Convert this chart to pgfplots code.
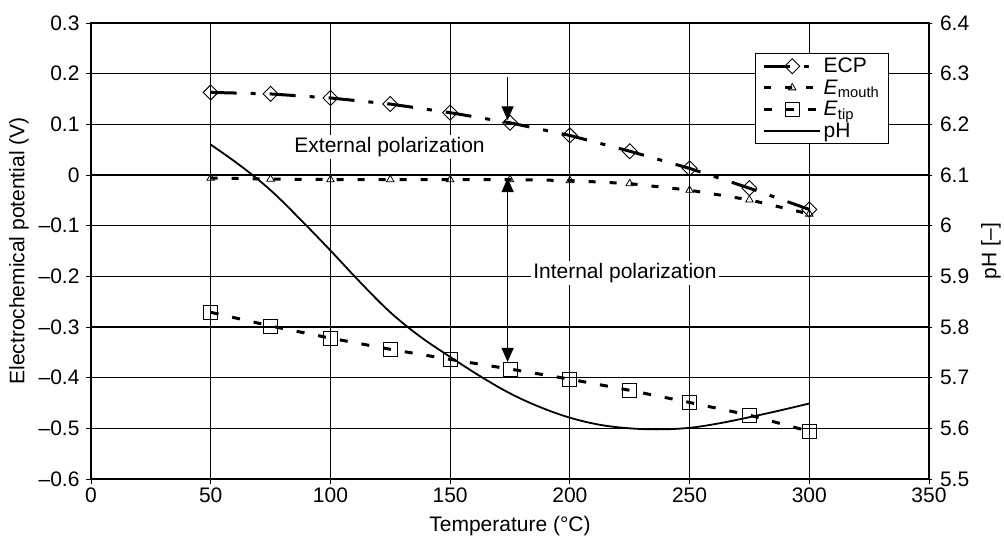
\documentclass[border=0pt]{standalone}
\usepackage{fontspec}
\setmainfont{Liberation Sans}
\usepackage{pgfplots}
\pgfplotsset{compat=1.18}
\usetikzlibrary{arrows.meta}

\begin{document}
\begin{tikzpicture}
\pgfplotsset{
  every axis/.append style={
    scale only axis, width=838pt, height=456pt,
    xmin=0, xmax=350,
    font=\fontsize{21}{24}\selectfont,
    /pgf/number format/assume math mode=true,
    tick style={black, line width=0.9pt},
    major tick length=5pt, tick align=outside,
  },
}
\begin{axis}[
  name=main,
  ymin=-0.6, ymax=0.3,
  xtick={0,50,100,150,200,250,300,350},
  ytick={-0.6,-0.5,-0.4,-0.3,-0.2,-0.1,0,0.1,0.2,0.3},
  yticklabels={--0.6,--0.5,--0.4,--0.3,--0.2,--0.1,0,0.1,0.2,0.3},
  xtick pos=bottom, ytick pos=left,
  grid=major,
  major grid style={black, line width=1.2pt},
  axis line style={black, line width=1.4pt},
  yticklabel style={xshift=-3pt},
  xlabel={Temperature (°C)},
  ylabel={Electrochemical potential (V)},
  xlabel style={at={(axis description cs:0.5,0)}, anchor=center, yshift=-47pt},
  ylabel style={at={(axis description cs:-0.0859,0.5)}, anchor=center},
  legend style={at={(0.952,0.934)}, anchor=north east, draw=black, line width=1pt,
    font=\fontsize{21}{23}\selectfont, inner xsep=7pt, inner ysep=2.5pt, row sep=1.5pt,
    legend cell align=left},
  legend image code/.code={\draw[mark repeat=2,mark phase=2] plot coordinates {(0pt,0pt)(28pt,0pt)(56pt,0pt)};},
]
\addplot[black, line width=3pt, dash pattern=on 26pt off 14pt on 5pt off 14pt,
  mark=square, mark size=5.3pt, mark options={solid, rotate=45, line width=0.9pt, fill=none}]
  coordinates {(50,0.163)(75,0.160)(100,0.152)(125,0.140)(150,0.123)(175,0.103)(200,0.078)(225,0.047)(250,0.013)(275,-0.026)(300,-0.068)};
\addlegendentry{ECP}
\addplot[black, line width=3pt, dash pattern=on 7pt off 14pt,
  mark=triangle, mark size=4.3pt, mark options={solid, line width=0.8pt, fill=none}]
  coordinates {(50,-0.006)(75,-0.008)(100,-0.009)(125,-0.009)(150,-0.009)(175,-0.009)(200,-0.011)(225,-0.017)(250,-0.030)(275,-0.049)(300,-0.077)};
\addlegendentry{\textit{E}\textsubscript{mouth}}
\addplot[black, line width=3pt, dash pattern=on 8pt off 14pt,
  mark=square, mark size=7pt, mark options={solid, line width=0.9pt, fill=none}]
  coordinates {(50,-0.271)(75,-0.298)(100,-0.322)(125,-0.344)(150,-0.364)(175,-0.383)(200,-0.403)(225,-0.425)(250,-0.449)(275,-0.474)(300,-0.506)};
\addlegendentry{\textit{E}\textsubscript{tip}}
\addlegendimage{black, line width=1.8pt}
\addlegendentry{pH}

\node[fill=white, inner sep=2pt, font=\fontsize{21}{24}\selectfont] at (axis cs:124.7,0.055) {External polarization};
\node[fill=white, inner sep=2pt, font=\fontsize{21}{24}\selectfont] at (axis cs:223,-0.193) {Internal polarization};
\draw[-{Triangle[length=14pt,width=12pt]}, line width=1.2pt] (axis cs:174,0.193) -- (axis cs:174,0.108);
\draw[{Triangle[length=14pt,width=12pt]}-{Triangle[length=14pt,width=12pt]}, line width=1.2pt] (axis cs:174,-0.006) -- (axis cs:174,-0.369);
\end{axis}

\begin{axis}[
  ymin=5.5, ymax=6.4,
  axis y line*=right, axis x line=none,
  ytick={5.5,5.6,5.7,5.8,5.9,6,6.1,6.2,6.3,6.4},
  axis line style={black, line width=1.4pt},
  tick align=center,
  yticklabel style={xshift=5pt},
  ylabel={pH [--]},
  ylabel style={at={(axis description cs:1.074,0.5)}, anchor=center},
]
\addplot[black, line width=1.8pt, smooth, tension=0.6]
  coordinates {(50,6.160)(62.5,6.118)(75,6.070)(87.5,6.012)(100,5.951)(112.5,5.888)(125,5.829)(137.5,5.781)(150,5.741)(162.5,5.703)(175,5.669)(187.5,5.642)(200,5.621)(212.5,5.607)(225,5.600)(237.5,5.598)(250,5.601)(262.5,5.610)(275,5.622)(287.5,5.635)(300,5.649)};
\end{axis}
\pgfresetboundingbox
\path[use as bounding box] ([shift={(-91pt,-59pt)}]main.south west) rectangle ([shift={(75pt,23pt)}]main.north east);
\end{tikzpicture}
\end{document}
